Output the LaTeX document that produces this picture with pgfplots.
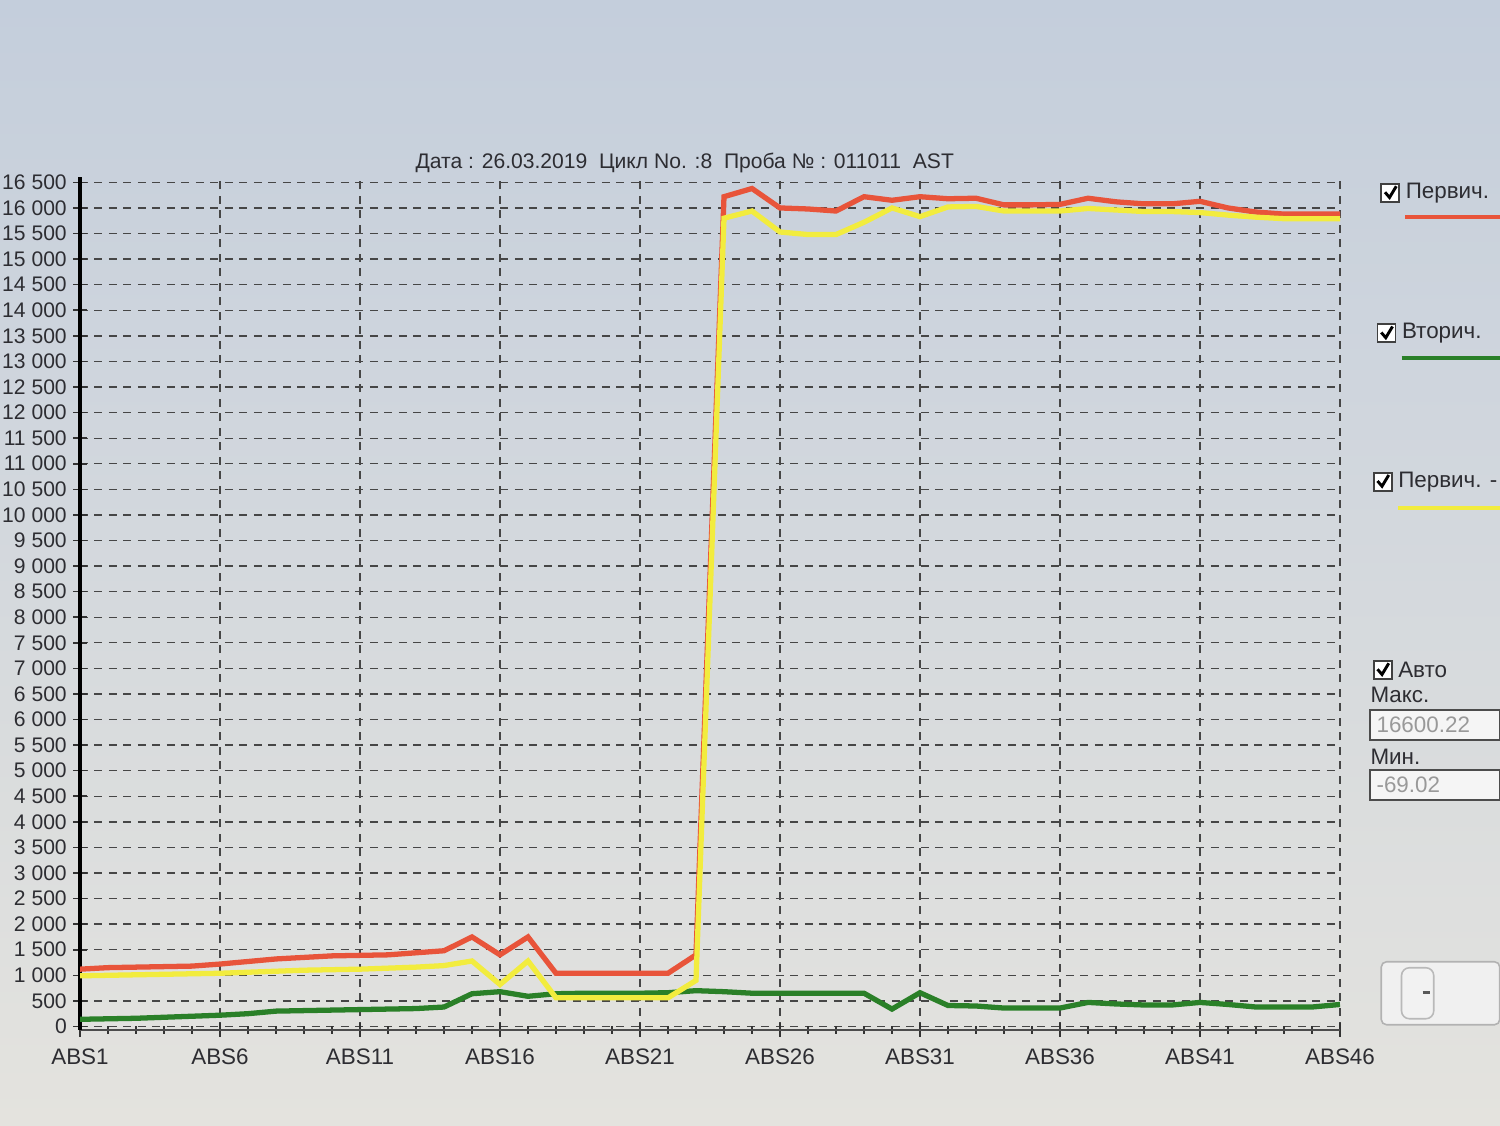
\documentclass[border=0pt]{standalone}
\usepackage{fontspec}
\setmainfont{Liberation Sans}
\usepackage{pgfplots}
\pgfplotsset{compat=1.18}

\definecolor{bgtop}{RGB}{196,206,220}
\definecolor{bgmid}{RGB}{214,219,226}
\definecolor{bgbot}{RGB}{228,227,222}
\definecolor{primred}{RGB}{232,84,58}
\definecolor{secgreen}{RGB}{42,128,40}
\definecolor{primyellow}{RGB}{242,236,62}
\definecolor{txt}{RGB}{45,45,50}

% checkbox with tick mark
\newcommand{\cbox}[2]{%
  \fill[white] (#1,{#2-0.12}) rectangle ++(0.24,0.24);
  \draw[gray!50!black, line width=0.6pt] (#1,{#2-0.12}) rectangle ++(0.24,0.24);
  \draw[black, line width=1.1pt] ({#1+0.05},{#2+0.01}) -- ({#1+0.11},{#2-0.06}) -- ({#1+0.2},{#2+0.09});
}

\begin{document}
\begin{tikzpicture}
\shade[top color=bgtop, middle color=bgmid, bottom color=bgbot]
  (-1.0667,-1.2667) rectangle (18.9333,13.7333);
\useasboundingbox (-1.0667,-1.2667) rectangle (18.9333,13.7333);

\begin{axis}[
    at={(0,0)}, anchor=south west,
    scale only axis,
    width=16.8cm, height=11.37cm,
    xmin=1, xmax=46,
    ymin=-69.02, ymax=16600.22,
    axis lines*=left,
    x axis line style={draw=gray!60!black, line width=1pt},
    y axis line style={draw=black, line width=1.3pt},
    xtick={1,6,11,16,21,26,31,36,41,46},
    xticklabels={ABS1,ABS6,ABS11,ABS16,ABS21,ABS26,ABS31,ABS36,ABS41,ABS46},
    minor xtick={1,...,46},
    ytick={0,500,...,16500},
    scaled y ticks=false,
    xmajorgrids, ymajorgrids,
    grid style={dash pattern=on 3pt off 2.5pt, draw=gray!55!black, line width=0.5pt},
    tick align=center,
    major tick length=5pt, minor tick length=3pt,
    tick style={draw=gray!40!black, line width=0.6pt},
    ticklabel style={font=\fontsize{8}{10}\selectfont, text=txt},
    yticklabel style={xshift=1pt},
    xticklabel style={font=\fontsize{8.5}{10}\selectfont, yshift=-1pt},
    title={Дата : 26.03.2019\ \ Цикл No. :8\ \ Проба № : 011011\ \ AST},
    title style={at={(rel axis cs:0.48,1)}, anchor=south, yshift=-8pt,
                 font=\fontsize{8}{10}\selectfont, text=txt},
    /pgf/number format/1000 sep={\ },
    /pgf/number format/assume math mode=true,
]
\addplot[primred, line width=2pt] coordinates {
 (1,1120)(2,1150)(3,1160)(4,1170)(5,1180)(6,1220)(7,1270)(8,1320)(9,1350)(10,1380)
 (11,1390)(12,1400)(13,1440)(14,1480)(15,1750)(16,1400)(17,1750)(18,1040)(19,1040)(20,1040)
 (21,1040)(22,1040)(23,1400)(24,16220)(25,16380)(26,16000)(27,15980)(28,15940)(29,16220)(30,16150)
 (31,16220)(32,16180)(33,16190)(34,16060)(35,16060)(36,16070)(37,16190)(38,16120)(39,16080)(40,16080)
 (41,16130)(42,16000)(43,15920)(44,15880)(45,15880)(46,15880)
};
\addplot[secgreen, line width=2pt] coordinates {
 (1,140)(2,150)(3,160)(4,180)(5,200)(6,220)(7,250)(8,300)(9,310)(10,320)
 (11,330)(12,340)(13,350)(14,380)(15,640)(16,680)(17,590)(18,640)(19,650)(20,650)
 (21,650)(22,660)(23,700)(24,680)(25,650)(26,650)(27,650)(28,650)(29,650)(30,340)
 (31,660)(32,410)(33,400)(34,360)(35,360)(36,360)(37,470)(38,440)(39,420)(40,420)
 (41,470)(42,430)(43,380)(44,380)(45,380)(46,430)
};
\addplot[primyellow, line width=2pt] coordinates {
 (1,990)(2,1000)(3,1010)(4,1020)(5,1030)(6,1040)(7,1060)(8,1080)(9,1100)(10,1110)
 (11,1120)(12,1140)(13,1160)(14,1190)(15,1280)(16,820)(17,1280)(18,560)(19,560)(20,560)
 (21,560)(22,560)(23,900)(24,15800)(25,15940)(26,15530)(27,15480)(28,15480)(29,15720)(30,16000)
 (31,15830)(32,16020)(33,16030)(34,15940)(35,15940)(36,15940)(37,15990)(38,15960)(39,15930)(40,15930)
 (41,15910)(42,15860)(43,15820)(44,15790)(45,15790)(46,15790)
};
\end{axis}

% side panel: series switches
\begin{scope}[font=\fontsize{8.5}{10}\selectfont, text=txt]
\cbox{17.35}{11.16}
\node[anchor=west, inner sep=0pt] at (17.67,11.16) {Первич.};
\draw[primred, line width=1.2pt] (17.67,10.84) -- (18.93,10.84);

\cbox{17.3}{9.29}
\node[anchor=west, inner sep=0pt] at (17.62,9.29) {Вторич.};
\draw[secgreen, line width=1.2pt] (17.62,8.96) -- (18.93,8.96);

\cbox{17.25}{7.31}
\node[anchor=west, inner sep=0pt] at (17.57,7.31) {Первич. -};
\draw[primyellow, line width=1.6pt] (17.57,6.96) -- (18.93,6.96);

\cbox{17.25}{4.80}
\node[anchor=west, inner sep=0pt] at (17.57,4.80) {Авто};
\node[anchor=west, inner sep=0pt] at (17.2,4.47) {Макс.};
\draw[gray!60!black, fill=white!92!gray, line width=0.6pt] (17.2,3.87) rectangle (18.93,4.27);
\node[anchor=west, inner sep=0pt, text=gray!80] at (17.28,4.07) {16600.22};
\node[anchor=west, inner sep=0pt] at (17.2,3.64) {Мин.};
\draw[gray!60!black, fill=white!92!gray, line width=0.6pt] (17.2,3.07) rectangle (18.93,3.47);
\node[anchor=west, inner sep=0pt, text=gray!80] at (17.28,3.27) {-69.02};

\draw[gray!60, fill=gray!12, rounded corners=2pt, line width=0.6pt] (17.35,0.07) rectangle (18.93,0.91);
\draw[gray!55, fill=white!90!gray, rounded corners=3pt, line width=0.6pt] (17.62,0.15) rectangle (18.05,0.83);
\draw[gray!70!black, line width=0.8pt] (17.9,0.5) -- (18.0,0.5);
\end{scope}
\end{tikzpicture}
\end{document}
